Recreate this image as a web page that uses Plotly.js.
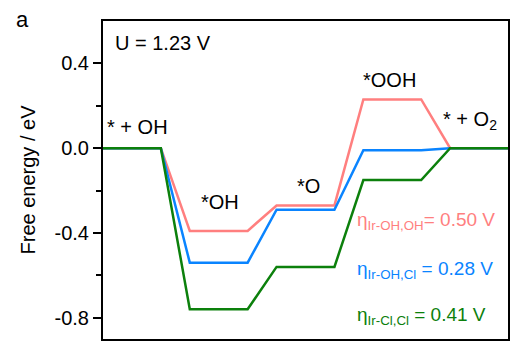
<!DOCTYPE html>
<html>
<head>
<meta charset="utf-8">
<script src="https://cdn.plot.ly/plotly-3.0.1.min.js"></script>
<style>html,body{margin:0;padding:0;background:#fff;}#chart{width:521px;height:352px;}</style>
</head>
<body>
<div id="chart"></div>
<script>
// Reaction steps (free-energy levels)
const steps = ['* + OH', '*OH', '*O', '*OOH', '* + O2'];
const stepLabels = ['* + OH', '*OH', '*O', '*OOH', '* + O<sub>2</sub>'];

// Free energies (eV) at U = 1.23 V
const energyIrOHOH = [0.00, -0.39, -0.27, 0.23, 0.00];
const energyIrOHCl = [0.00, -0.54, -0.29, -0.01, 0.00];
const energyIrClCl = [0.00, -0.76, -0.56, -0.15, 0.00];

const seriesNames = ['Ir-OH,OH', 'Ir-OH,Cl', 'Ir-Cl,Cl'];
const overpotentials = ['0.50', '0.28', '0.41'];
const seriesColors = ['#ff7f7f', '#0a84ff', '#0c800c'];

const tickVals = [0.4, 0.0, -0.4, -0.8];
const tickText = ['0.4', '0.0', '-0.4', '-0.8'];

// Each level spans 2 units, connectors span 1 unit
function levelXY(energies) {
  const x = [], y = [];
  energies.forEach((e, i) => { x.push(3 * i, 3 * i + 2); y.push(e, e); });
  return {x, y};
}

const allSeries = [energyIrOHOH, energyIrOHCl, energyIrClCl];
const traces = allSeries.map((en, k) => {
  const p = levelXY(en);
  return {
    x: p.x, y: p.y, type: 'scatter', mode: 'lines', name: seriesNames[k],
    line: {color: seriesColors[k], width: 2.5}, hoverinfo: 'skip'
  };
});

const font = {family: 'Liberation Sans, Arial, sans-serif', color: '#000'};

// step label positions (data coords)
const labelPos = [[1.2, 0.10], [4.03, -0.255], [7.1, -0.18], [9.9, 0.32], [12.7, 0.13]];
const annotations = stepLabels.map((t, i) => ({
  text: t, x: labelPos[i][0], y: labelPos[i][1], xref: 'x', yref: 'y',
  showarrow: false, xanchor: 'center', yanchor: 'middle', font: Object.assign({size: 20}, font)
}));

annotations.push({text: 'U = 1.23 V', xref: 'paper', yref: 'paper', x: 0.024, y: 0.93,
  xanchor: 'left', yanchor: 'middle', showarrow: false, font: Object.assign({size: 20}, font)});
annotations.push({text: 'a', xref: 'paper', yref: 'paper', x: -0.2, y: 1.005,
  xanchor: 'center', yanchor: 'middle', showarrow: false, font: Object.assign({size: 22}, font)});

const etaY = [-0.345, -0.575, -0.79];
seriesNames.forEach((n, k) => {
  const gap = k === 0 ? '' : ' ';
  annotations.push({
    text: 'η<sub>Ir-' + n.slice(3) + '</sub>' + gap + '= ' + overpotentials[k] + ' V',
    xref: 'paper', yref: 'y', x: 0.623, y: etaY[k], xanchor: 'left', yanchor: 'middle',
    showarrow: false, font: {family: font.family, size: 19, color: seriesColors[k]}
  });
});

const layout = {
  width: 521, height: 352,
  margin: {l: 103, r: 13, t: 21, b: 13},
  paper_bgcolor: '#fff', plot_bgcolor: '#fff',
  showlegend: false,
  font: Object.assign({size: 19}, font),
  xaxis: {range: [0, 14], showgrid: false, zeroline: false, showticklabels: false,
    ticks: '', showline: true, mirror: true, linecolor: '#000', linewidth: 2},
  yaxis: {range: [-0.9, 0.6], showgrid: false, zeroline: false,
    tickvals: tickVals, ticktext: tickText, ticks: 'outside', ticklen: 8, tickwidth: 2,
    tickcolor: '#000', showline: true, mirror: true, linecolor: '#000', linewidth: 2,
    tickfont: Object.assign({size: 20}, font),
    minor: {tickvals: [0.2, -0.2, -0.6], ticks: 'outside', ticklen: 5, tickwidth: 2, tickcolor: '#000'},
    title: {text: 'Free energy / eV', font: Object.assign({size: 20}, font), standoff: 14}
  },
  annotations: annotations
};

Plotly.newPlot('chart', traces, layout, {displayModeBar: false, staticPlot: true});
</script>
</body>
</html>
